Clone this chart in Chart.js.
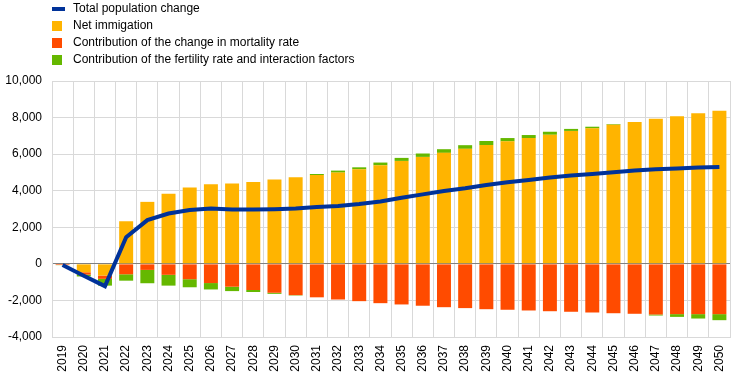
<!DOCTYPE html>
<html>
<head>
<meta charset="utf-8">
<script src="https://cdn.jsdelivr.net/npm/chart.js@4"></script>
<style>
  html, body { margin: 0; padding: 0; background: #fff; }
  #wrap { position: relative; width: 743px; height: 378px; }
  #legend { position: absolute; left: 0; top: 0; font-family: "Liberation Sans", Arial, sans-serif; font-size: 12px; color: #000; }
  .item { position: absolute; left: 52px; height: 17px; width: 400px; }
  .sw { position: absolute; left: 0; }
  .txt { position: absolute; left: 21px; top: 0; line-height: 17px; white-space: nowrap; }
</style>
</head>
<body>
<div id="wrap">
  <canvas id="c" width="743" height="378"></canvas>
  <div id="legend"></div>
</div>
<script>
const categories = ["2019","2020","2021","2022","2023","2024","2025","2026","2027","2028","2029","2030","2031","2032","2033","2034","2035","2036","2037","2038","2039","2040","2041","2042","2043","2044","2045","2046","2047","2048","2049","2050"];
const netImmigration = [0,-460,-640,2330,3390,3830,4170,4350,4400,4480,4610,4730,4860,4990,5170,5390,5630,5850,6070,6290,6500,6700,6880,7060,7270,7410,7610,7760,7930,8070,8240,8370];
const mortality = [-60,-130,-180,-570,-330,-600,-840,-1050,-1250,-1430,-1580,-1710,-1830,-1950,-2040,-2150,-2220,-2290,-2370,-2420,-2480,-2510,-2550,-2590,-2620,-2660,-2700,-2730,-2770,-2750,-2750,-2750];
const fertility = [-10,-100,-370,-350,-730,-590,-440,-350,-240,-110,-60,-20,55,110,110,150,165,185,200,200,220,180,165,165,110,90,35,0,-55,-150,-240,-330];
const totalChange = [-60,-650,-1220,1460,2390,2750,2940,3030,2970,2970,2990,3030,3110,3170,3270,3410,3610,3800,3980,4130,4310,4460,4590,4720,4830,4920,5010,5100,5170,5210,5270,5300];
const yTicks = [-4000,-2000,0,2000,4000,6000,8000,10000];
const seriesNames = ["Total population change","Net immigation","Contribution of the change in mortality rate","Contribution of the fertility rate and interaction factors"];
const colors = ["#003299","#FFB400","#FF4B00","#65B800"];

// legend (HTML text)
const leg = document.getElementById('legend');
seriesNames.forEach((name, i) => {
  const it = document.createElement('div');
  it.className = 'item';
  it.style.top = (i * 17 + 0) + 'px';
  const sw = document.createElement('div');
  sw.className = 'sw';
  if (i === 0) { sw.style.top = '7px'; sw.style.width = '13px'; sw.style.height = '4px'; }
  else { sw.style.top = '4px'; sw.style.width = '10px'; sw.style.height = '10px'; }
  sw.style.background = colors[i];
  const tx = document.createElement('div');
  tx.className = 'txt';
  tx.textContent = name;
  it.appendChild(sw); it.appendChild(tx);
  leg.appendChild(it);
});

Chart.defaults.font.family = '"Liberation Sans", Arial, sans-serif';
Chart.defaults.font.size = 12;
Chart.defaults.color = '#000';

new Chart(document.getElementById('c'), {
  type: 'bar',
  data: {
    labels: categories,
    datasets: [
      { type: 'line', label: seriesNames[0], data: totalChange, borderColor: colors[0], backgroundColor: colors[0], borderWidth: 4, pointRadius: 0, tension: 0, stack: 'line', order: 0 },
      { label: seriesNames[1], data: netImmigration, backgroundColor: colors[1], stack: 'a', order: 1, barPercentage: 0.66, categoryPercentage: 1 },
      { label: seriesNames[2], data: mortality, backgroundColor: colors[2], stack: 'a', order: 1, barPercentage: 0.66, categoryPercentage: 1 },
      { label: seriesNames[3], data: fertility, backgroundColor: colors[3], stack: 'a', order: 1, barPercentage: 0.66, categoryPercentage: 1 }
    ]
  },
  options: {
    responsive: false,
    animation: false,
    layout: { padding: { top: 81, right: 13, left: 0, bottom: 0 } },
    plugins: { legend: { display: false }, tooltip: { enabled: false } },
    scales: {
      x: {
        stacked: true,
        grid: { color: '#d9d9d9', drawTicks: false, offset: true },
        border: { color: '#d9d9d9' },
        ticks: { minRotation: 90, maxRotation: 90, padding: 8, autoSkip: false },
        afterFit: (s) => { s.height = 41; }
      },
      y: {
        stacked: true,
        min: yTicks[0], max: yTicks[yTicks.length - 1],
        afterBuildTicks: (s) => { s.ticks = yTicks.map(v => ({ value: v })); },
        grid: { color: (ctx) => (ctx.tick && ctx.tick.value === 0) ? '#808080' : '#d9d9d9', drawTicks: false },
        border: { color: '#d9d9d9' },
        ticks: { padding: 10, callback: (v) => v.toLocaleString('en-US') },
        afterFit: (s) => { s.width = 52; }
      }
    }
  }
});
</script>
</body>
</html>
